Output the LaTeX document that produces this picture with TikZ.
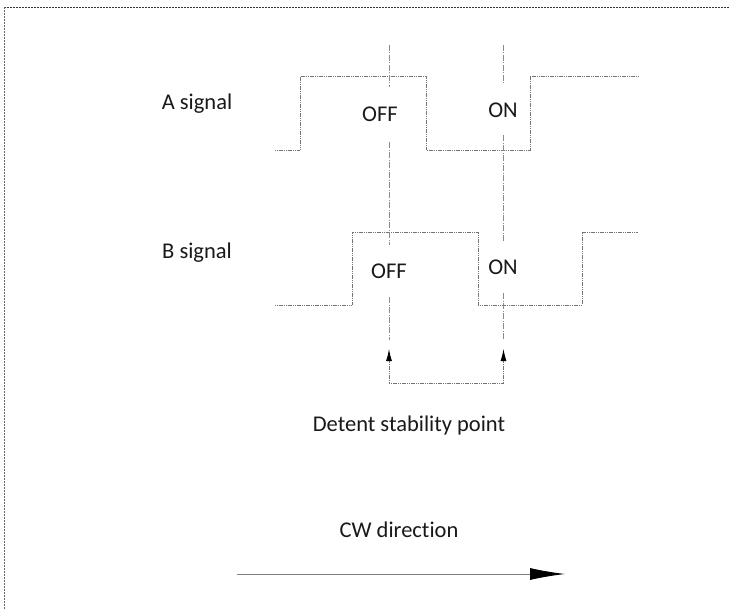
\documentclass[tikz,border=0pt]{standalone}
\usepackage{fontspec}
\setmainfont[Ligatures=NoCommon]{Carlito}
\usetikzlibrary{arrows.meta}
\begin{document}
\begin{tikzpicture}[x=1pt,y=-1pt,
  sig/.style={draw=black!55,line width=0.9pt,dash pattern=on 1.2pt off 0.6pt},
  guide/.style={draw=black!45,line width=0.8pt,dash pattern=on 6pt off 1.5pt on 1pt off 1.5pt},
  framel/.style={draw=black!60,line width=0.9pt,dash pattern=on 2pt off 1pt},
  lbl/.style={font=\fontsize{22.5}{27}\selectfont,text=black!90,inner sep=0pt},
  state/.style={font=\fontsize{22.5}{27}\selectfont,text=black!90,inner xsep=2pt,inner ysep=0pt,minimum height=#1},
  tip/.style={-{Latex[length=12pt,width=6pt,color=black]},draw=black!55,line width=0.9pt,dash pattern=on 1.2pt off 0.6pt},
]
\useasboundingbox (0,0) rectangle (729,610);
% frame
\draw[draw=black!80,line width=0.9pt,dash pattern=on 2pt off 1pt] (729,7) -- (4,7);
\draw[framel] (4,7) -- (4,610);
% labels
\node[lbl] (alabel) at (197,104) {A signal};
\node[lbl] (blabel) at (197,253) {B signal};
% state nodes
\node[state=55pt] (offA) at (380,114.5) {OFF};
\node[state=50pt] (onA) at (503,110) {ON};
\node[state=52pt] (offB) at (389,271) {OFF};
\node[state=51pt] (onB) at (503,267.5) {ON};
% A signal
\draw[sig] (275,150) -- (300,150) -- (300,76.5) -- (426.5,76.5) -- (426.5,150) -- (530,150) -- (530,76.5) -- (638,76.5);
% B signal
\draw[sig] (275,305) -- (352,305) -- (352,232) -- (478,232) -- (478,305) -- (582,305) -- (582,232) -- (638,232);
% guide lines
\coordinate (g1top) at (389,45);
\coordinate (g1bot) at (389,340);
\coordinate (g2top) at (503.5,45);
\coordinate (g2bot) at (503.5,340);
\draw[guide] (g1top) -- (g1top |- offA.north);
\draw[guide] (g1top |- offA.south) -- (g1top |- offB.north);
\draw[guide] (g1top |- offB.south) -- (g1bot);
\draw[guide] (g2top) -- (g2top |- onA.north);
\draw[guide] (g2top |- onA.south) -- (g2top |- onB.north);
\draw[guide] (g2top |- onB.south) -- (g2bot);
% detent bracket
\coordinate (t1) at (389,349);
\coordinate (t2) at (503.5,349);
\coordinate (b1) at (389,383);
\coordinate (b2) at (503.5,383);
\draw[sig] (b1) -- (b2);
\draw[tip] (b1) -- (t1);
\draw[tip] (b2) -- (t2);
\node[lbl] (detent) at (409,425) {Detent stability point};
% CW direction
\node[lbl] (cw) at (399,530) {CW direction};
\coordinate (cws) at (237,574);
\coordinate (cwe) at (565,574);
\draw[draw=black!50,line width=0.9pt,-{Latex[length=35pt,width=12pt,color=black]}] (cws) -- (cwe);
\end{tikzpicture}
\end{document}
